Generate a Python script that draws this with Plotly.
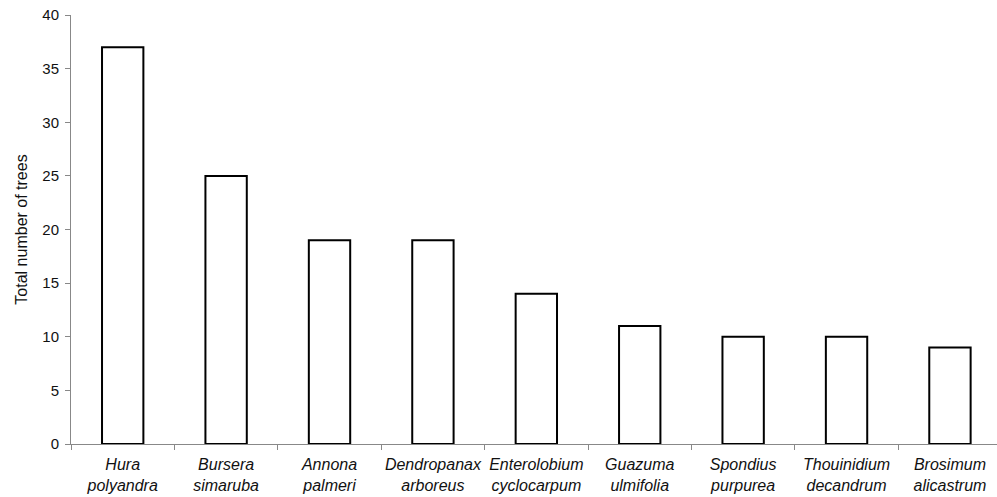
import plotly.graph_objects as go

genus = ["Hura", "Bursera", "Annona", "Dendropanax", "Enterolobium",
         "Guazuma", "Spondius", "Thouinidium", "Brosimum"]
epithet = ["polyandra", "simaruba", "palmeri", "arboreus", "cyclocarpum",
           "ulmifolia", "purpurea", "decandrum", "alicastrum"]
tree_counts = [37, 25, 19, 19, 14, 11, 10, 10, 9]

species = [f"<i>{g}<br>{e}</i>" for g, e in zip(genus, epithet)]

fig = go.Figure(
    go.Bar(
        x=species,
        y=tree_counts,
        width=0.4,
        marker=dict(color="white", line=dict(color="black", width=2)),
    )
)

family = "Liberation Sans, Arial, sans-serif"

fig.update_layout(
    width=997,
    height=497,
    margin=dict(l=71, r=0, t=15, b=53),
    plot_bgcolor="white",
    paper_bgcolor="white",
    showlegend=False,
    font=dict(family=family, size=15, color="#111"),
)

fig.update_xaxes(
    range=[-0.5, 8.455],
    showline=True,
    linecolor="#888",
    linewidth=1,
    ticks="outside",
    tickson="boundaries",
    ticklen=5,
    tickcolor="#888",
    showgrid=False,
    tickangle=0,
    automargin=False,
    tickfont=dict(family=family, size=16, color="#111"),
    ticklabelstandoff=6,
)

fig.update_yaxes(
    range=[0, 40],
    dtick=5,
    showline=True,
    linecolor="#888",
    linewidth=1,
    ticks="outside",
    ticklen=5,
    tickcolor="#888",
    showgrid=False,
    zeroline=False,
    automargin=False,
    tickfont=dict(family=family, size=15, color="#111"),
    ticklabelstandoff=3,
    title=dict(text="Total number of trees",
               font=dict(family=family, size=16, color="#111"), standoff=10),
)

fig.write_html("out.html")
